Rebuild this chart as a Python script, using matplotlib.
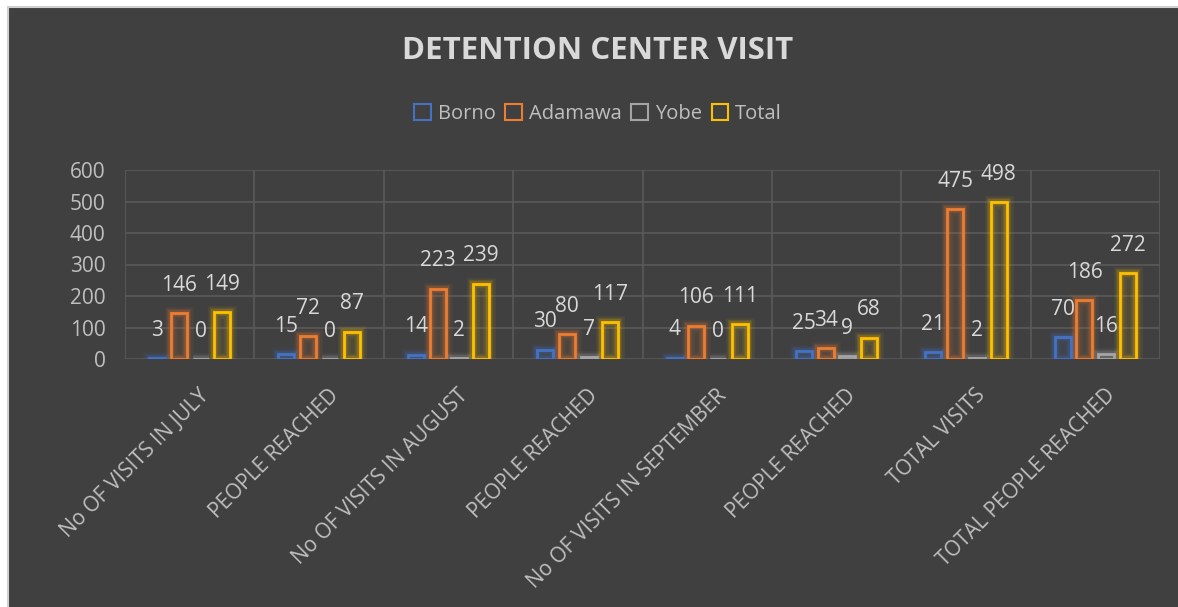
import numpy as np
import matplotlib
matplotlib.use("Agg")
import matplotlib.pyplot as plt
from matplotlib.patches import Patch, Rectangle

# --- datos ---
categorias = ["No OF VISITS IN JULY", "PEOPLE REACHED", "No OF VISITS IN AUGUST",
              "PEOPLE REACHED", "No OF VISITS IN SEPTEMBER", "PEOPLE REACHED",
              "TOTAL VISITS", "TOTAL PEOPLE REACHED"]
borno = [3, 15, 14, 30, 4, 25, 21, 70]
adamawa = [146, 72, 223, 80, 106, 34, 475, 186]
yobe = [0, 0, 2, 7, 0, 9, 2, 16]
total = [149, 87, 239, 117, 111, 68, 498, 272]

series = [("Borno", borno, "#4472C4"),
          ("Adamawa", adamawa, "#ED7D31"),
          ("Yobe", yobe, "#A5A5A5"),
          ("Total", total, "#FFC000")]

BG = "#404040"
TXT = "#d9d9d9"
TICK = "#bfbfbf"
GRID = "#5a5a5a"

plt.rcParams['font.family'] = ['Open Sans', 'DejaVu Sans']

fig = plt.figure(figsize=(11.78, 6.07), dpi=100)
fig.patch.set_facecolor("#ffffff")
# fondo oscuro del gráfico con borde claro a la izquierda y arriba
fig.patches.append(Rectangle((8 / 1178, -0.05), 1.1, 1.05 - 7 / 607, transform=fig.transFigure,
                             facecolor=BG, edgecolor="#d0d0d0", linewidth=1.5, zorder=-10))

ax = fig.add_axes([125 / 1178, 1 - 359 / 607, (1160 - 125) / 1178, (359 - 170) / 607])
ax.set_zorder(1)
ax.set_facecolor(BG)
ax.patch.set_alpha(0)

x = np.arange(len(categorias))
pitch = 0.168
ancho = 0.124
offsets = (np.arange(4) - 1.5) * pitch

for (nombre, vals, color), off in zip(series, offsets):
    xs = x + off
    # efecto de brillo
    for lw, a in [(9, 0.07), (6, 0.12), (4, 0.18)]:
        ax.bar(xs, vals, width=ancho, facecolor="none", edgecolor=color,
               linewidth=lw, alpha=a, zorder=2)
    ax.bar(xs, vals, width=ancho, facecolor=color, alpha=0.08, linewidth=0, zorder=2)
    ax.bar(xs, vals, width=ancho, facecolor="none", edgecolor=color,
           linewidth=2, zorder=3)
    for xi, v in zip(xs, vals):
        ax.annotate(str(v), (xi, v), xytext=(0, 20), textcoords="offset points",
                    ha="center", va="center", color=TXT, fontsize=15, zorder=4)

ax.set_xlim(-0.5, len(categorias) - 0.5)
ax.set_ylim(0, 600)
ax.set_yticks(np.arange(0, 601, 100))
ax.yaxis.grid(True, color=GRID, linewidth=1.2, zorder=1)
for b in np.arange(-0.5, len(categorias), 1):
    ax.axvline(b, color=GRID, linewidth=1.2, zorder=1)
for s in ax.spines.values():
    s.set_visible(False)

# etiquetas de categoría giradas
ax.set_xticks(x)
ax.tick_params(axis="x", labelbottom=False, length=0)
for xi, cat in zip(x, categorias):
    ax.annotate(cat, (xi, 0), xycoords=("data", "axes fraction"),
                xytext=(24, -26), textcoords="offset pixels",
                rotation=45, ha="right", va="top", color=TICK, fontsize=15,
                annotation_clip=False)
ax.tick_params(axis="y", length=0, colors=TICK, labelsize=15, pad=14)

fig.text(598 / 1178, 1 - 51 / 607, "DETENTION CENTER VISIT", ha="center", va="center",
         color=TXT, fontsize=22.5, fontweight="bold")

handles = [Patch(facecolor="none", edgecolor=c, linewidth=1.5, label=n) for n, _, c in series]
leg = fig.legend(handles=handles, loc="center", bbox_to_anchor=(598 / 1178, 1 - 114 / 607),
                 ncol=4, frameon=False, fontsize=14.5, handlelength=0.8, handleheight=0.8,
                 handletextpad=0.35, columnspacing=0.5, labelcolor=TICK)

fig.savefig("out.png", dpi=100, facecolor=fig.get_facecolor())
